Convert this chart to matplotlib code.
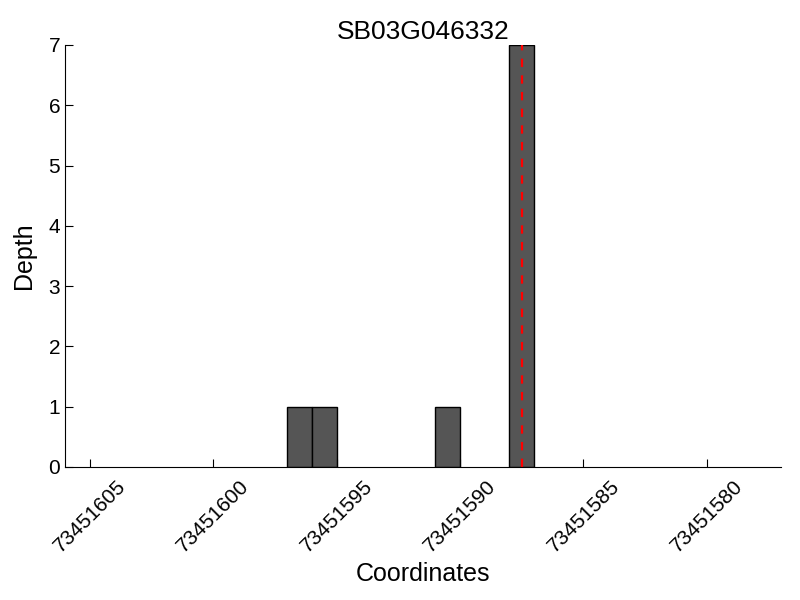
import matplotlib
matplotlib.use("Agg")
import matplotlib.pyplot as plt

plt.rcParams['font.family'] = ['Liberation Sans', 'DejaVu Sans']
plt.rcParams['lines.scale_dashes'] = False

# bar left edges (width 1) and depths
positions = [73451596, 73451595, 73451590, 73451587]
depths = [1, 1, 1, 7]
marker = 73451587.5
title = "SB03G046332"
xticks = [73451605, 73451600, 73451595, 73451590, 73451585, 73451580]

fig = plt.figure(figsize=(8, 6), dpi=100)
ax = fig.add_axes([0.08125, 0.2217, 0.895, 0.7033])

ax.bar(positions, depths, width=1, align='edge', color='#555555',
       edgecolor='black', linewidth=1)
ax.axvline(marker, color='red', linestyle='--', linewidth=1.6, dashes=(6, 6))

ax.set_xlim(73451606, 73451577)
ax.set_ylim(0, 7)
ax.set_xticks(xticks)
ax.set_xticklabels([str(t) for t in xticks], rotation=45, ha='center')
ax.set_yticks(range(8))

ax.spines['top'].set_visible(False)
ax.spines['right'].set_visible(False)
ax.tick_params(direction='in', length=6, labelsize=15, top=False, right=False)
ax.tick_params(axis='x', pad=7)

ax.set_xlabel("Coordinates", fontsize=18, labelpad=4)
ax.set_ylabel("Depth", fontsize=18, labelpad=9)
ax.set_title(title, fontsize=19, pad=4)

fig.savefig("out.png", dpi=100)
